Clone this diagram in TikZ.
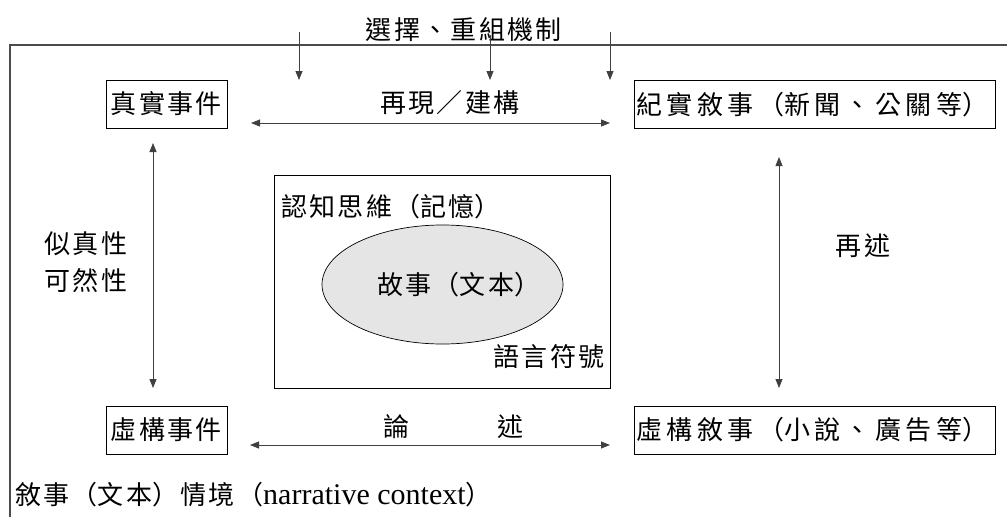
\documentclass[tikz,border=0pt]{standalone}
\usepackage{fontspec}
\setmainfont{Liberation Serif}
\newfontfamily\cjk{Noto Sans CJK TC}
\usetikzlibrary{arrows.meta,shapes.geometric}

% full-width brackets set at the side of their square
\newcommand{\cjkadv}{1.09em}
\newcommand{\lpar}{\makebox[\cjkadv][r]{\addfontfeature{RawFeature=+halt}（}}
\newcommand{\rpar}{\makebox[\cjkadv][l]{\addfontfeature{RawFeature=+halt}）}}

\tikzset{
  tip/.tip={Triangle[length=9pt,width=7pt]},
  frame/.style={line width=1.1pt, black!70},
  box/.style={draw, line width=0.9pt, inner sep=0pt, minimum height=48},
  both/.style={tip-tip, line width=0.8pt, black!75},
  down/.style={-tip, line width=0.8pt, black!75},
  lbl/.style={inner sep=0pt, font=\cjk\fontsize{26}{37}\selectfont\addfontfeature{LetterSpace=9}},
  widelbl/.style={inner sep=0pt, font=\cjk\fontsize{26}{37}\selectfont\addfontfeature{LetterSpace=17},
    execute at begin node=\renewcommand{\cjkadv}{1.17em}},
}

\begin{document}
\begin{tikzpicture}[x=1pt, y=-1pt]
    \useasboundingbox (0,0) rectangle (1007,517);

    % outer frame (cut at the right and bottom)
    \coordinate (fr) at (1007,45);
    \coordinate (fl) at (10,517);
    \draw[frame] (fr) -| (fl);

    \node[lbl] (select) at (464,30) {選擇、重組機制};
    \foreach \x/\y [count=\i] in {299/32, 490/35, 610/32} {
        \coordinate (s\i) at (\x,\y);
        \coordinate (t\i) at (\x,80);
        \draw[down] (s\i) -- (t\i);
    }

    % four events / narratives
    \node[box, lbl, minimum width=121] (real) at (166.5,104) {真實事件};
    \node[box, lbl, minimum width=121] (fict) at (166.5,430) {虛構事件};
    \node[box, widelbl, minimum width=361] (realnar) at (814.5,104.5) {紀實敘事\lpar 新聞、公關等\rpar};
    \node[box, widelbl, minimum width=361] (fictnar) at (814.5,430) {虛構敘事\lpar 小說、廣告等\rpar};

    \node[lbl] (repr) at (450,103) {再現／建構};
    \coordinate (a1) at (251,123);
    \coordinate (a2) at (610,123);
    \draw[both] (a1) -- (a2);

    \node[lbl] (argue) at (453,427) {論\hspace{88pt}述};
    \coordinate (b1) at (250,445);
    \coordinate (b2) at (610,445);
    \draw[both] (b1) -- (b2);

    \node[lbl, align=left] (verisim) at (86,262) {似真性\\可然性};
    \coordinate (c1) at (153,143);
    \coordinate (c2) at (153,388);
    \draw[both] (c1) -- (c2);

    \node[lbl] (retell) at (863,246) {再述};
    \coordinate (d1) at (779,157);
    \coordinate (d2) at (779,388);
    \draw[both] (d1) -- (d2);

    % cognition box with the story
    \node[draw, line width=0.9pt, minimum width=336, minimum height=213] (mind) at (442,281.5) {};
    \node[lbl, anchor=west] (cogn) at (281,207) {認知思維\lpar 記憶\rpar};
    \node[ellipse, draw, line width=0.7pt, fill=black!10, minimum width=241, minimum height=119] (story) at (442.5,284.5) {};
    \node[lbl, anchor=west] (storytxt) at (377,285) {故事\lpar 文本\rpar};
    \node[lbl] (signs) at (549,357) {語言符號};

    \node[lbl, anchor=west] (context) at (15,495)
        {敘事\lpar 文本\rpar 情境\lpar{\rmfamily\fontsize{30}{30}\selectfont narrative context}\rpar};
\end{tikzpicture}
\end{document}
